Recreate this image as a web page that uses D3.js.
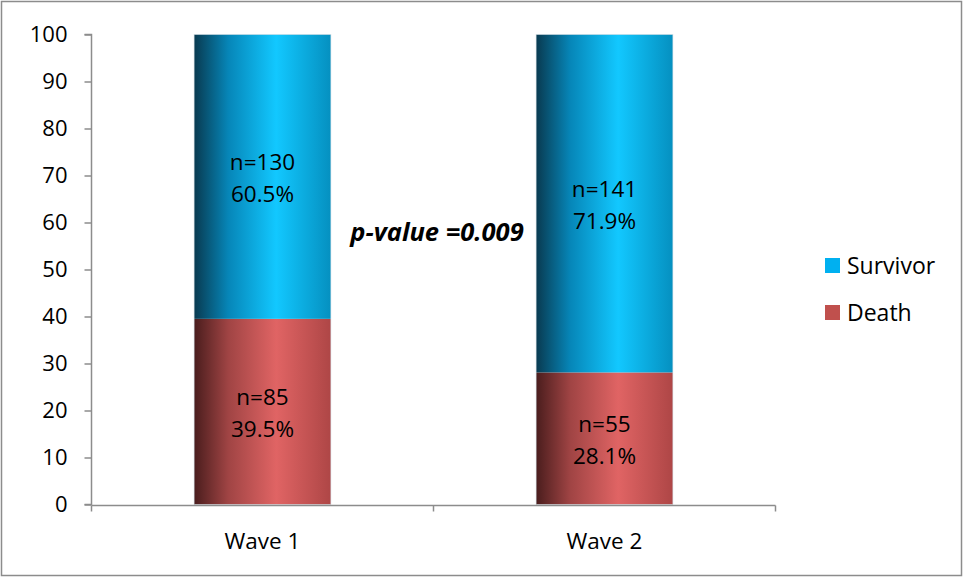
<!DOCTYPE html>
<html><head><meta charset="utf-8">
<script src="https://cdn.jsdelivr.net/npm/d3@7"></script>
<style>body{margin:0;background:#fff}svg{display:block}text{font-family:"Open Sans",sans-serif}</style>
</head><body>
<svg id="c" width="963" height="577"></svg>
<script>
const categories = ["Wave 1", "Wave 2"];
const seriesNames = ["Death", "Survivor"];
const deathPct = [39.5, 28.1];
const survivorPct = [60.5, 71.9];
const deathN = [85, 55];
const survivorN = [130, 141];
const yTicks = [0,10,20,30,40,50,60,70,80,90,100];
const annotation = "p-value =0.009";

const svg = d3.select("#c");
svg.append("rect").attr("x",1.5).attr("y",1.5).attr("width",960).attr("height",574)
  .attr("fill","#fff").attr("stroke","#8c8c8c").attr("stroke-width",1.5);

const x = d3.scaleBand().domain(categories).range([91.5, 775.5]).paddingInner(0.6).paddingOuter(0.3);
const y = d3.scaleLinear().domain([0,100]).range([504.5, 34.5]);

const defs = svg.append("defs");
function grad(id, c0, c1, c2, c3){
  const g = defs.append("linearGradient").attr("id",id).attr("x1","0").attr("x2","1").attr("y1","0").attr("y2","0");
  g.append("stop").attr("offset","0").attr("stop-color",c0);
  g.append("stop").attr("offset","0.25").attr("stop-color",c1);
  g.append("stop").attr("offset","0.6").attr("stop-color",c2);
  g.append("stop").attr("offset","1").attr("stop-color",c3);
}
grad("gS","#093a50","#0686b8","#12c8ff","#0590c0");
grad("gD","#4a1d1d","#a04444","#e06464","#ae4646");

const stacks = categories.map((c,i)=>({cat:c, segs:[
  {name:"Death", y0:0, y1:deathPct[i], n:deathN[i], p:deathPct[i], fill:"url(#gD)"},
  {name:"Survivor", y0:deathPct[i], y1:deathPct[i]+survivorPct[i], n:survivorN[i], p:survivorPct[i], fill:"url(#gS)"}
]}));

stacks.forEach(s=>{
  const bx = x(s.cat), bw = x.bandwidth();
  s.segs.forEach(seg=>{
    svg.append("rect").attr("x",bx).attr("width",bw)
      .attr("y",y(seg.y1)).attr("height",y(seg.y0)-y(seg.y1))
      .attr("fill",seg.fill);
    const cy = (y(seg.y0)+y(seg.y1))/2;
    const cx = bx+bw/2;
    svg.append("text").attr("x",cx).attr("y",cy-15).attr("text-anchor","middle").attr("dominant-baseline","central")
      .attr("font-size",22.5).attr("fill","#000").text("n="+seg.n);
    svg.append("text").attr("x",cx).attr("y",cy+17).attr("text-anchor","middle").attr("dominant-baseline","central")
      .attr("font-size",22.5).attr("fill","#000").text(seg.p.toFixed(1)+"%");
  });
  // faint outline of whole bar
  svg.append("rect").attr("x",bx).attr("width",bw).attr("y",y(100)).attr("height",y(0)-y(100))
    .attr("fill","none").attr("stroke","#d0dde3").attr("stroke-width",0.6);
});

// Y axis
const ya = svg.append("g").attr("transform","translate(91.5,0)")
  .call(d3.axisLeft(y).tickValues(yTicks).tickSize(7).tickPadding(17));
ya.select(".domain").attr("stroke","#8c8c8c").attr("stroke-width",1.5).attr("d","M-7,34.5H0V504.5H-7");
ya.selectAll(".tick line").attr("stroke","#8c8c8c").attr("stroke-width",1.5);
ya.selectAll(".tick text").attr("font-size",22).attr("fill","#000").attr("font-family","'Open Sans',sans-serif");

// X axis
const xa = svg.append("g").attr("transform","translate(0,505.5)");
xa.append("line").attr("x1",91.5).attr("x2",775.5).attr("y1",0).attr("y2",0).attr("stroke","#8c8c8c").attr("stroke-width",1.5);
const bounds = [x.range()[0], (x("Wave 1")+x.bandwidth()+x("Wave 2"))/2, x.range()[1]];
bounds.forEach(b=> xa.append("line").attr("x1",b).attr("x2",b).attr("y1",0).attr("y2",6).attr("stroke","#8c8c8c").attr("stroke-width",1.5));
categories.forEach(c=> xa.append("text").attr("x",x(c)+x.bandwidth()/2).attr("y",35).attr("text-anchor","middle")
  .attr("dominant-baseline","central").attr("font-size",22.5).attr("fill","#000").text(c));

// annotation
svg.append("text").attr("x",437).attr("y",231).attr("text-anchor","middle").attr("dominant-baseline","central")
  .attr("font-size",25.5).attr("font-weight","bold").attr("font-style","italic").attr("fill","#000").text(annotation);

// legend
const legend = [{name:"Survivor", color:"#00b0f0"},{name:"Death", color:"#c0504d"}];
legend.forEach((l,i)=>{
  const ly = 265 + i*47;
  svg.append("rect").attr("x",825).attr("y",ly-7).attr("width",15).attr("height",15).attr("fill",l.color);
  svg.append("text").attr("x",847).attr("y",ly).attr("dominant-baseline","central").attr("font-size",23).attr("fill","#000").text(l.name);
});
</script>
</body></html>
